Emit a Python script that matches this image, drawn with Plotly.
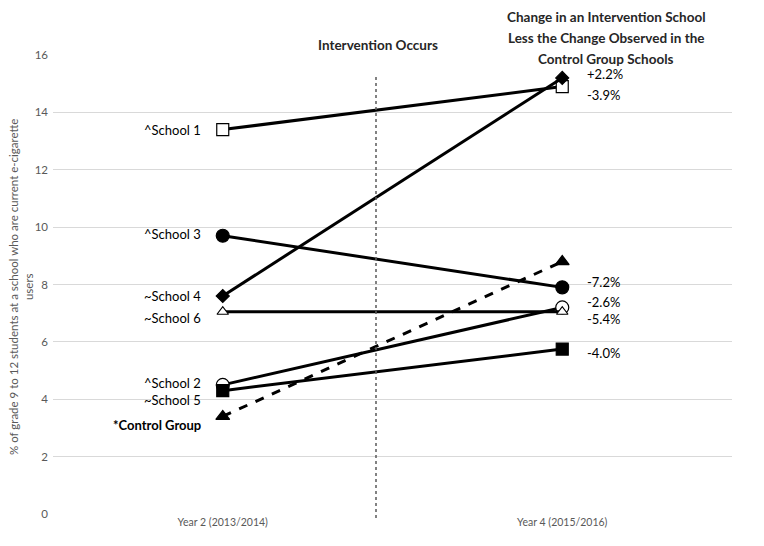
import plotly.graph_objects as go

years = ["Year 2 (2013/2014)", "Year 4 (2015/2016)"]

schools = ["^School 1", "^School 2", "^School 3", "~School 4", "~School 6", "~School 5", "*Control Group"]
year2 = [13.4, 4.5, 9.7, 7.6, 7.05, 4.3, 3.4]
year4 = [14.9, 7.2, 7.9, 15.2, 7.05, 5.75, 8.8]
diff_labels = ["-3.9%", "-2.6%", "-7.2%", "+2.2%", "-5.4%", "-4.0%", ""]

# styling per school
symbols = ["square", "circle", "circle", "diamond", "triangle-up", "square", "triangle-up"]
fills = ["white", "white", "black", "black", "white", "black", "black"]
sizes = [12, 13, 13, 10, 10, 12, 12]
dashes = ["solid"] * 6 + ["dash"]
left_shift = [0, 2, 2, 0, -6, -9, -9]
right_shift = [-8, 5, 5, 4, -7, -4, 0]

FONT = "Lato"
GREY = "#595959"

# page body has an 8px margin, so the figure is sized/offset to land where the reference plot is
W, H = 756, 538
L, R, T, B = 45, 32, 47, 32
PW, PH = W - L - R, H - T - B


def px(x):  # screen x -> paper
    return (x - 8 - L) / PW


def py(y):  # screen y -> paper
    return (H - B - (y - 8)) / PH


fig = go.Figure()
for i, name in enumerate(schools):
    fig.add_trace(go.Scatter(
        x=years, y=[year2[i], year4[i]], mode="lines+markers", name=name,
        line=dict(color="black", width=3, dash=dashes[i]),
        marker=dict(symbol=symbols[i], size=sizes[i], color=fills[i],
                    line=dict(color="black", width=1.2)),
        showlegend=False, hoverinfo="skip",
    ))
    label = "<b>" + name + "</b>" if name.startswith("*") else name
    fig.add_annotation(x=years[0], y=year2[i], text=label, showarrow=False,
                       xanchor="right", xshift=-20, yshift=left_shift[i],
                       font=dict(family=FONT, size=13, color="black"))
    if diff_labels[i]:
        fig.add_annotation(x=years[1], y=year4[i], text=diff_labels[i], showarrow=False,
                           xanchor="left", xshift=23, yshift=right_shift[i],
                           font=dict(family=FONT, size=13, color="black"))

title_lines = ["Change in an Intervention School", "Less the Change Observed in the", "Control Group Schools"]
title_y = [17, 38, 59]
for t, ty in zip(title_lines, title_y):
    fig.add_annotation(xref="paper", yref="paper", x=px(606), y=py(ty),
                       text="<b>" + t + "</b>", showarrow=False, xanchor="center", yanchor="middle",
                       font=dict(family=FONT, size=13.5, color="#262626"))
fig.add_annotation(xref="paper", yref="paper", x=px(378), y=py(45),
                   text="<b>Intervention Occurs</b>", showarrow=False, xanchor="center", yanchor="middle",
                   font=dict(family=FONT, size=13.5, color="#262626"))

# y axis title
fig.add_annotation(xref="paper", yref="paper", x=px(21), y=py(287), textangle=-90,
                   text="% of grade 9 to 12 students at a school who are current e-cigarette<br>users",
                   showarrow=False, xanchor="center", yanchor="middle",
                   font=dict(family=FONT, size=11.5, color=GREY))

# intervention divider
fig.add_shape(type="line", xref="paper", yref="paper", x0=px(376), x1=px(376),
              y0=py(518), y1=py(75), line=dict(color=GREY, width=1.5, dash="dot"))

fig.update_layout(
    width=W, height=H,
    margin=dict(l=L, r=R, t=T, b=B),
    plot_bgcolor="white", paper_bgcolor="white",
    font=dict(family=FONT, color=GREY),
    xaxis=dict(type="category", range=[-0.5, 1.5], showgrid=False, showline=False,
               ticks="", tickfont=dict(size=10.5, color=GREY), zeroline=False),
    yaxis=dict(range=[0, 16], dtick=2, showgrid=True, gridcolor="#d9d9d9", gridwidth=1,
               zeroline=False, showline=False, ticks="", tickfont=dict(size=11.5, color=GREY),
               ticklabelstandoff=4),
)

fig.write_html("out.html")
